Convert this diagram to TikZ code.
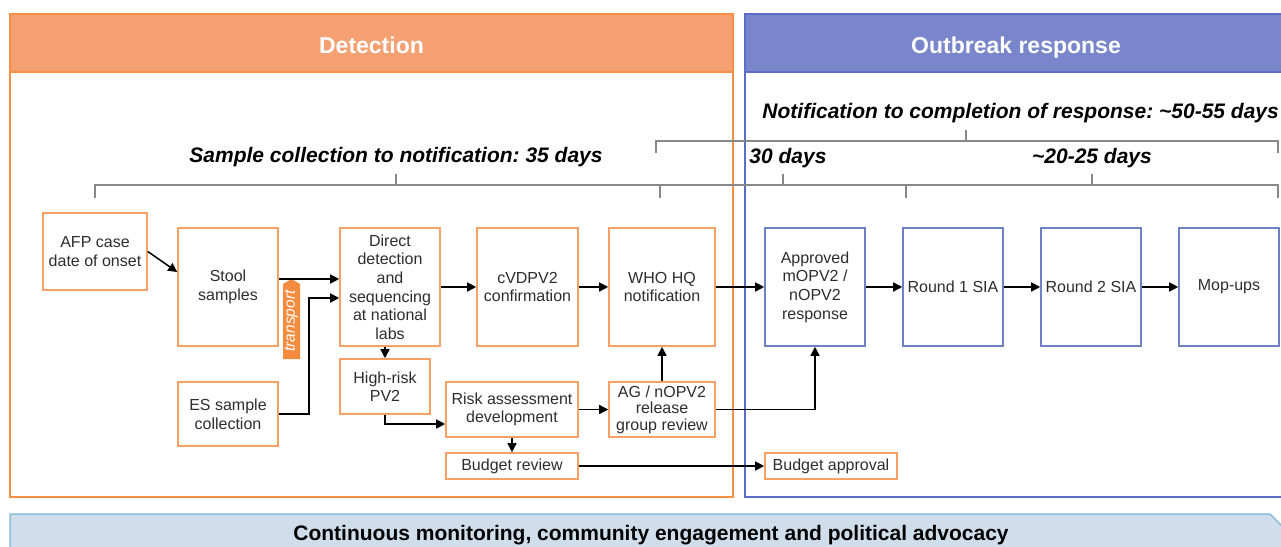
\documentclass[tikz,border=0pt]{standalone}
\usepackage{fontspec}
\setmainfont{Liberation Sans}
\usetikzlibrary{calc,arrows.meta}
\frenchspacing
\definecolor{orhead}{RGB}{245,160,114}
\definecolor{orline}{RGB}{247,143,70}
\definecolor{orbox}{RGB}{249,160,100}
\definecolor{orfill}{RGB}{245,139,63}
\definecolor{blhead}{RGB}{122,134,203}
\definecolor{blline}{RGB}{90,110,200}
\definecolor{blbox}{RGB}{110,128,200}
\definecolor{bnfill}{RGB}{208,222,236}
\definecolor{bnline}{RGB}{140,190,220}
\definecolor{txt}{RGB}{45,45,45}
\definecolor{brk}{RGB}{136,136,136}
\tikzset{
  obox/.style={draw=orbox, line width=1.6pt, text=txt, align=center, inner sep=0pt,
    font=\fontsize{16}{18.6}\selectfont},
  bbox/.style={obox, draw=blbox},
  arr/.style={-{Triangle[length=9pt,width=9pt]}, line width=1.5pt, black},
  brace/.style={brk, line width=2pt},
  blab/.style={font=\fontsize{21}{24}\selectfont\bfseries\itshape, inner sep=0pt},
  head/.style={font=\fontsize{23}{26}\selectfont\bfseries, text=white, inner sep=0pt, anchor=base}
}
\begin{document}
\begin{tikzpicture}[x=1pt,y=-1pt]
\useasboundingbox (0,0) rectangle (1281,546);
\clip (0,0) rectangle (1281,546);
% panels
\draw[orline, line width=2pt] (10,72) rectangle (733,497);
\draw[orline, fill=orhead, line width=2pt] (10,14) rectangle (733,72);
\node[head] (hdet) at (371.5,53) {Detection};
\draw[blline, line width=2pt] (745,72) rectangle (1290,497);
\draw[blline, fill=blhead, line width=2pt] (745,14) rectangle (1290,72);
\node[head] (hout) at (1016,53) {Outbreak response};
% banner
\draw[bnline, fill=bnfill, line width=1.5pt] (10,514) -- (1270,514) -- (1310,554) -- (1270,594) -- (10,594) -- cycle;
\node[font=\fontsize{21}{24}\selectfont\bfseries, inner sep=0pt, anchor=base] (ban) at (651,540) {Continuous monitoring, community engagement and political advocacy};
% brackets
\draw[brace] (95,198) -- (95,185) -- (1278,185) -- (1278,198);
\draw[brace] (660,185) -- (660,198);
\draw[brace] (906,185) -- (906,198);
\draw[brace] (396,185) -- (396,174);
\draw[brace] (783,185) -- (783,174);
\draw[brace] (1092,185) -- (1092,174);
\draw[brace] (656,153) -- (656,141) -- (1278,141) -- (1278,153);
\draw[brace] (966,141) -- (966,130);
\node[blab] (l1) at (396,157) {Sample collection to notification: 35 days};
\node[blab, anchor=east] (l2) at (1279,113) {Notification to completion of response: \textasciitilde 50-55 days};
\node[blab] (l3) at (788,158) {30 days};
\node[blab] (l4) at (1092,158) {\textasciitilde 20-25 days};
% boxes
\node[obox, minimum width=104pt, minimum height=77pt] (afp) at (95,251.5) {AFP case\\date of onset};
\node[obox, minimum width=100pt, minimum height=118pt] (stool) at (228,287) {Stool\\samples};
\node[obox, minimum width=100pt, minimum height=118pt] (direct) at (390,287) {Direct\\detection\\and\\sequencing\\at national\\labs};
\node[obox, minimum width=101pt, minimum height=118pt] (cvd) at (527.5,287) {cVDPV2\\confirmation};
\node[obox, minimum width=106pt, minimum height=118pt] (who) at (662,287) {WHO HQ\\notification};
\node[bbox, minimum width=100pt, minimum height=118pt] (appr) at (815,287) {Approved\\mOPV2 /\\nOPV2\\response};
\node[bbox, minimum width=100pt, minimum height=118pt] (r1) at (953,287) {Round 1 SIA};
\node[bbox, minimum width=100pt, minimum height=118pt] (r2) at (1091,287) {Round 2 SIA};
\node[bbox, minimum width=100pt, minimum height=118pt] (mop) at (1229,287) {Mop-ups};
\node[obox, minimum width=90pt, minimum height=55pt] (hr) at (385,386.5) {High-risk\\PV2};
\node[obox, minimum width=100pt, minimum height=64pt] (es) at (228,414) {ES sample\\collection};
\node[obox, minimum width=132pt, minimum height=55pt] (risk) at (512,409.5) {Risk assessment\\development};
\node[obox, minimum width=106pt, minimum height=55pt, font=\fontsize{16}{16.5}\selectfont] (ag) at (662,409.5) {AG / nOPV2\\release\\group review};
\node[obox, minimum width=132pt, minimum height=26pt] (bud) at (512,466) {Budget review};
\node[obox, minimum width=132pt, minimum height=26pt] (budap) at (831,466) {Budget approval};
% transport tag
\fill[orfill] (283,359) -- (283,284) -- (291.5,279) -- (300,284) -- (300,359) -- cycle;
\node[rotate=90, text=white, font=\fontsize{15.5}{18}\selectfont\itshape, inner sep=0pt] (tr) at (291.5,321) {transport};
% arrows
\draw[arr] (afp.east) -- ($(stool.west)+(0,-15)$);
\draw[arr] ($(stool.east)+(0,-8)$) -- ($(direct.west)+(0,-8)$);
\draw[arr] (es.east) -- ++(30,0) |- ($(direct.west)+(0,11)$);
\draw[arr] (direct.south -| hr.north) -- (hr.north);
\draw[arr] (hr.south) |- ($(risk.west)+(0,14.5)$);
\draw[arr] (direct.east) -- (cvd.west);
\draw[arr] (cvd.east) -- (who.west);
\draw[arr] (who.east) -- (appr.west);
\draw[arr] (appr.east) -- (r1.west);
\draw[arr] (r1.east) -- (r2.west);
\draw[arr] (r2.east) -- (mop.west);
\draw[arr] (risk.east) -- (ag.west);
\draw[arr] (ag.north) -- (who.south);
\draw[arr] (ag.east) -| (appr.south);
\draw[arr] (risk.south) -- (bud.north);
\draw[arr] (bud.east) -- (budap.west);
\end{tikzpicture}
\end{document}
